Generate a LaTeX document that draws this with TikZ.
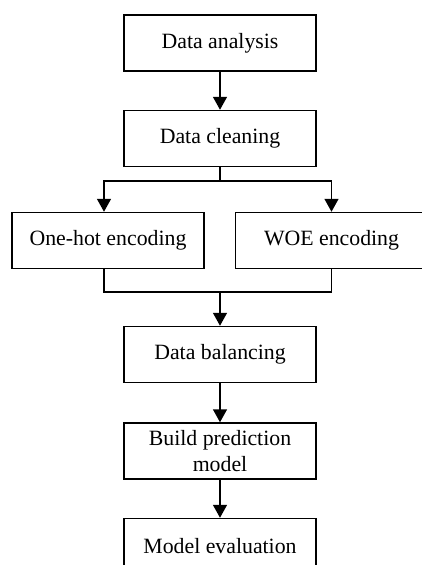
\documentclass[tikz,border=0pt]{standalone}
\usepackage{fontspec}
\setmainfont{Liberation Serif}
\usetikzlibrary{
  arrows.meta,
  positioning,
}
\tikzstyle{box} = [
  rectangle,
  draw,
  line width=1.5pt,
  minimum width=192,
  minimum height=56,
  inner sep=0pt,
  align=center,
  font=\fontsize{21.8}{26}\selectfont,
]
\tikzstyle{arrow} = [
  -{Triangle[width=14pt,length=13pt]},
  line width=1.5pt,
]

\begin{document}
\begin{tikzpicture}[x=1pt,y=1pt,node distance=38pt and 0pt]
      \useasboundingbox (0,0) rectangle (422,-565);

      \node[box] (analysis) at (220,-43) {Data analysis};
      \node[box] (cleaning) [below=of analysis] {Data cleaning};

      \node[box] (onehot) at (108,-240.5) {One-hot encoding};
      \node[box] (woe) at (331.5,-240.5) {WOE encoding};

      \node[box] (balancing) at (220,-354.5) {Data balancing};
      \node[box] (build) [below=39pt of balancing] {Build prediction\\model};
      \node[box] (evaluation) [below=of build] {Model evaluation};

      \coordinate (split) at (220,-181);
      \coordinate (merge) at (220,-292);

      \draw[arrow] (analysis) -- (cleaning);

      \draw[line width=1.5pt] (cleaning.south) -- (split);
      \draw[arrow] (split) -| ([xshift=-4pt]onehot.north);
      \draw[arrow] (split) -| (woe.north);

      \draw[line width=1.5pt] ([xshift=-4pt]onehot.south) |- (merge) -| (woe.south);
      \draw[arrow] (merge) -- (balancing);

      \draw[arrow] (balancing) -- (build);
      \draw[arrow] (build) -- (evaluation);
    \end{tikzpicture}
\end{document}
